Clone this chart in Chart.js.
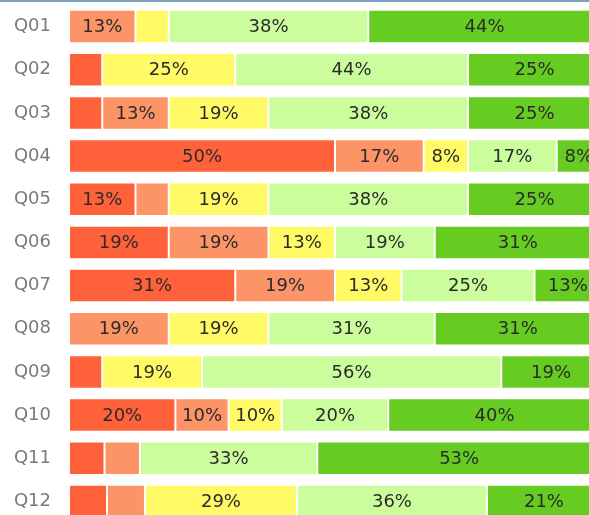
<!DOCTYPE html>
<html>
<head>
<meta charset="utf-8">
<script src="https://cdn.jsdelivr.net/npm/chart.js@4.4.1/dist/chart.umd.min.js"></script>
<style>
    html, body { margin: 0; padding: 0; background: #fff; overflow: hidden; }
    #wrap { position: relative; width: 620px; height: 535px; }
    #topLine { position: absolute; left: 0; top: 0; width: 589px; height: 2px; background: #7aa1bf; z-index: 2; }
</style>
</head>
<body>
<div id="topLine"></div>
<div id="wrap"><canvas id="chart" width="620" height="535"></canvas></div>
<script>
// Preguntas (categorías)
const questions = ['Q01', 'Q02', 'Q03', 'Q04', 'Q05', 'Q06', 'Q07', 'Q08', 'Q09', 'Q10', 'Q11', 'Q12'];

// Porcentaje de respuestas por nivel
const veryBad = [0, 6.25, 6.25, 50, 12.5, 18.75, 31.25, 0, 6.25, 20, 6.67, 7.14];
const bad = [12.5, 0, 12.5, 16.67, 6.25, 18.75, 18.75, 18.75, 0, 10, 6.67, 7.14];
const neutral = [6.25, 25, 18.75, 8.33, 18.75, 12.5, 12.5, 18.75, 18.75, 10, 0, 28.57];
const good = [37.5, 43.75, 37.5, 16.67, 37.5, 18.75, 25, 31.25, 56.25, 20, 33.33, 35.71];
const veryGood = [43.75, 25, 25, 8.33, 25, 31.25, 12.5, 31.25, 18.75, 40, 53.33, 21.43];

const levelColors = ['#ff623a', '#fc9468', '#fffa66', '#ccfd9c', '#66cc22'];

// Etiquetas de porcentaje dentro de cada segmento
const segmentLabels = {
    id: 'segmentLabels',
    afterDatasetsDraw(chart) {
        const ctx = chart.ctx;
        ctx.save();
        ctx.font = '18px "DejaVu Sans", sans-serif';
        ctx.fillStyle = '#2b2b2b';
        ctx.textAlign = 'center';
        ctx.textBaseline = 'middle';
        chart.data.datasets.forEach((ds, i) => {
            const meta = chart.getDatasetMeta(i);
            meta.data.forEach((bar, j) => {
                const v = ds.data[j];
                if (v < 8) return;
                const cx = (bar.x + bar.base) / 2;
                ctx.fillText(Math.round(v) + '%', cx, bar.y + 1);
            });
        });
        ctx.restore();
    }
};

const series = [veryBad, bad, neutral, good, veryGood];

new Chart(document.getElementById('chart').getContext('2d'), {
    type: 'bar',
    data: {
        labels: questions,
        datasets: series.map((values, i) => ({
            data: values,
            backgroundColor: levelColors[i],
            borderColor: 'rgba(255, 255, 255, 0.35)',
            borderWidth: 1,
            borderSkipped: false,
            barPercentage: 0.776,
            categoryPercentage: 1
        }))
    },
    options: {
        indexAxis: 'y',
        responsive: false,
        animation: false,
        layout: {
            padding: { left: 0, right: 19, top: 5, bottom: 12 }
        },
        plugins: {
            legend: { display: false },
            tooltip: { enabled: false }
        },
        scales: {
            x: {
                stacked: true,
                min: 0,
                max: 100,
                display: false
            },
            y: {
                stacked: true,
                grid: { display: false, drawTicks: false },
                border: { display: false },
                ticks: {
                    color: '#7a7a7a',
                    padding: 18,
                    font: { family: '"DejaVu Sans", sans-serif', size: 18 }
                },
                afterFit(scale) {
                    scale.width = 69;
                    scale.paddingTop = 0;
                    scale.paddingBottom = 0;
                }
            }
        }
    },
    plugins: [segmentLabels]
});
</script>
</body>
</html>
